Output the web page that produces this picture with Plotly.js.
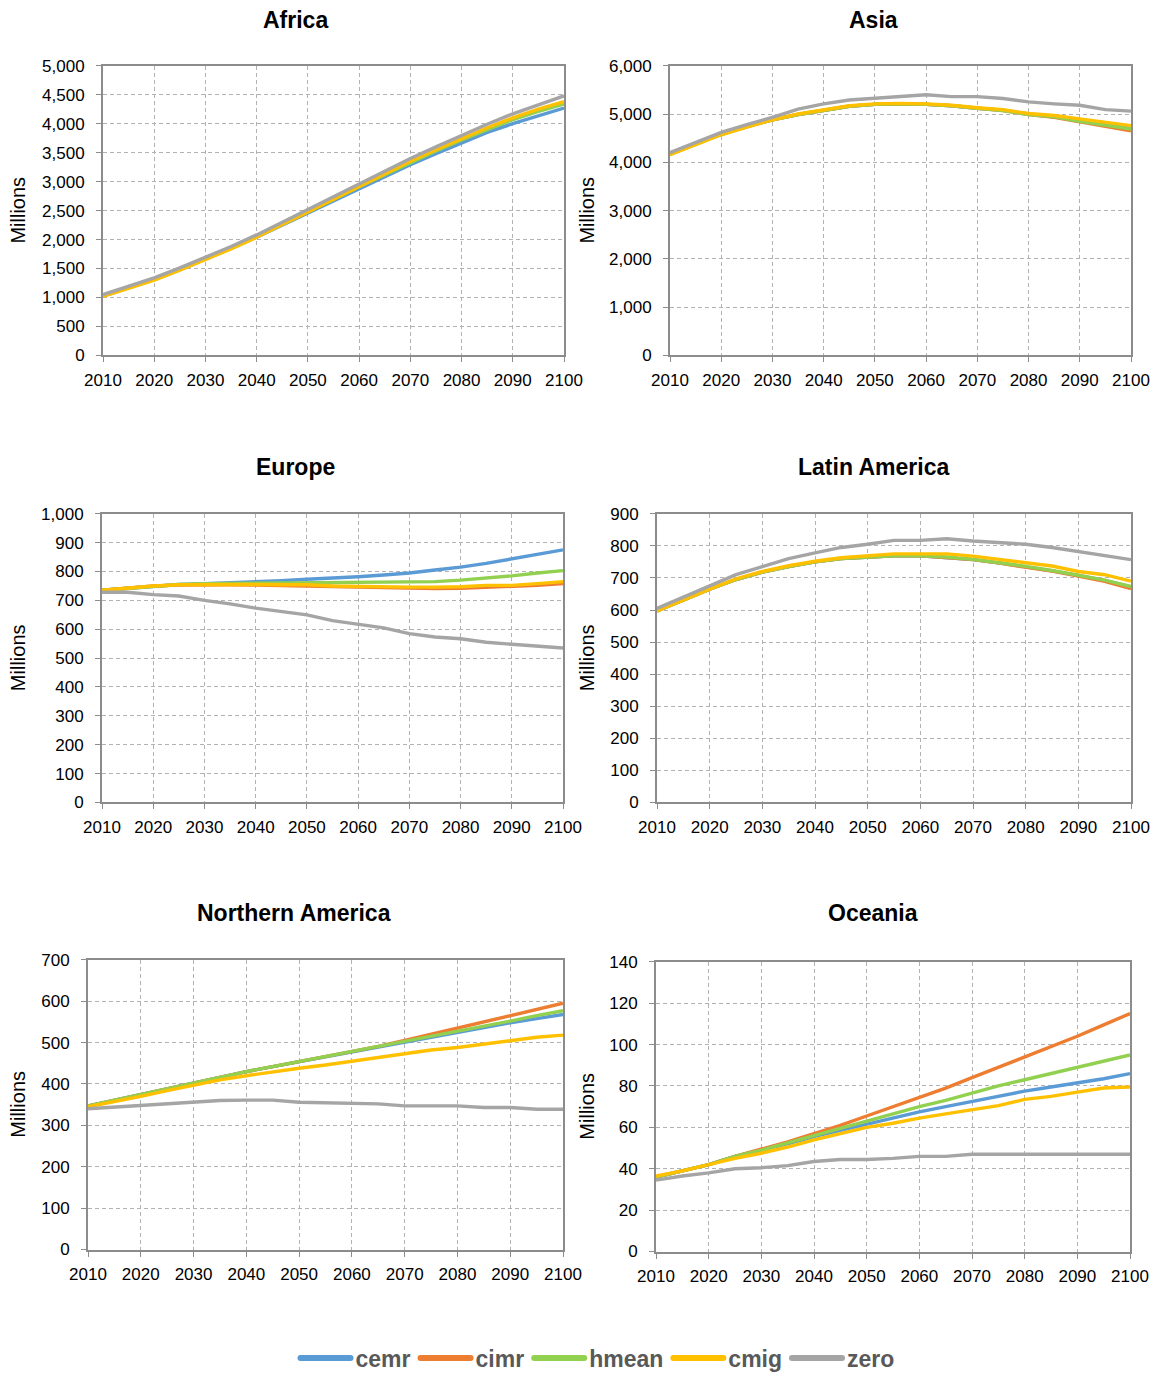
<!DOCTYPE html>
<html>
<head>
<meta charset="utf-8">
<script src="https://cdn.plot.ly/plotly-3.0.1.min.js"></script>
<style>
  html, body { margin: 0; padding: 0; background: #fff; }
  #chart { width: 1158px; height: 1380px; }
</style>
</head>
<body>
<div id="chart"></div>
<script>
// Population projections by region under five migration scenarios (millions)
const YEARS = [2010, 2015, 2020, 2025, 2030, 2035, 2040, 2045, 2050, 2055,
               2060, 2065, 2070, 2075, 2080, 2085, 2090, 2095, 2100];
const SCENARIOS = ['cemr', 'cimr', 'hmean', 'cmig', 'zero'];
const REGIONS = ['Africa', 'Asia', 'Europe', 'Latin America', 'Northern America', 'Oceania'];

const AFRICA_CEMR  = [1030, 1170, 1310, 1480, 1660, 1850, 2040, 2250, 2460, 2670, 2880, 3090, 3290, 3480, 3670, 3850, 4000, 4140, 4270];
const AFRICA_CIMR  = [1030, 1170, 1310, 1480, 1660, 1850, 2050, 2270, 2480, 2700, 2910, 3130, 3340, 3540, 3730, 3910, 4080, 4230, 4360];
const AFRICA_HMEAN = [1030, 1170, 1310, 1480, 1660, 1850, 2050, 2260, 2480, 2690, 2910, 3120, 3330, 3530, 3720, 3900, 4070, 4210, 4340];
const AFRICA_CMIG  = [1020, 1160, 1300, 1470, 1650, 1840, 2040, 2260, 2480, 2700, 2920, 3140, 3350, 3550, 3740, 3930, 4100, 4250, 4380];
const AFRICA_ZERO  = [1050, 1200, 1340, 1510, 1690, 1880, 2080, 2300, 2520, 2740, 2960, 3180, 3400, 3600, 3800, 3990, 4170, 4330, 4480];

const ASIA_CEMR  = [4170, 4380, 4580, 4740, 4880, 4990, 5080, 5160, 5200, 5210, 5200, 5170, 5120, 5080, 5000, 4940, 4860, 4780, 4700];
const ASIA_CIMR  = [4170, 4380, 4580, 4740, 4880, 4990, 5080, 5160, 5200, 5210, 5200, 5170, 5120, 5070, 4990, 4930, 4840, 4750, 4650];
const ASIA_HMEAN = [4170, 4380, 4580, 4740, 4880, 4990, 5080, 5160, 5200, 5210, 5200, 5170, 5120, 5070, 4990, 4940, 4850, 4770, 4690];
const ASIA_CMIG  = [4160, 4370, 4570, 4730, 4880, 5000, 5090, 5170, 5210, 5220, 5210, 5180, 5130, 5090, 5010, 4970, 4900, 4830, 4760];
const ASIA_ZERO  = [4200, 4410, 4620, 4780, 4930, 5100, 5210, 5290, 5330, 5360, 5400, 5360, 5360, 5320, 5250, 5210, 5180, 5090, 5060];

const EUROPE_CEMR  = [735, 742, 750, 755, 758, 761, 765, 768, 773, 777, 782, 788, 795, 805, 815, 828, 843, 858, 875];
const EUROPE_CIMR  = [735, 742, 750, 753, 754, 754, 753, 752, 751, 748, 746, 744, 742, 741, 742, 745, 748, 752, 758];
const EUROPE_HMEAN = [735, 742, 750, 755, 758, 759, 760, 760, 761, 761, 761, 762, 763, 765, 770, 777, 785, 795, 803];
const EUROPE_CMIG  = [735, 742, 750, 754, 755, 755, 755, 754, 754, 750, 748, 747, 746, 746, 747, 752, 752, 758, 765];
const EUROPE_ZERO  = [728, 728, 720, 715, 700, 688, 673, 662, 650, 630, 618, 605, 585, 573, 567, 555, 548, 542, 535];

const LATAM_CEMR  = [597, 632, 665, 695, 718, 735, 750, 760, 765, 769, 769, 764, 757, 747, 735, 722, 708, 692, 672];
const LATAM_CIMR  = [597, 632, 665, 695, 718, 735, 750, 760, 765, 769, 769, 764, 757, 746, 734, 721, 706, 689, 667];
const LATAM_HMEAN = [597, 632, 665, 695, 718, 735, 750, 760, 765, 769, 769, 765, 758, 748, 736, 723, 709, 693, 673];
const LATAM_CMIG  = [597, 632, 665, 697, 720, 738, 752, 763, 770, 775, 775, 775, 768, 758, 748, 737, 720, 710, 690];
const LATAM_ZERO  = [605, 640, 675, 710, 735, 760, 778, 795, 805, 817, 817, 822, 815, 810, 805, 795, 782, 770, 757];

const NAMER_CEMR  = [347, 361, 375, 389, 403, 417, 430, 442, 454, 466, 478, 490, 502, 514, 526, 537, 548, 558, 568];
const NAMER_CIMR  = [347, 361, 375, 389, 403, 417, 430, 442, 454, 466, 478, 491, 505, 520, 535, 550, 565, 580, 595];
const NAMER_HMEAN = [347, 361, 375, 389, 403, 417, 430, 442, 454, 466, 478, 490, 503, 516, 528, 540, 552, 565, 577];
const NAMER_CMIG  = [345, 357, 370, 384, 398, 410, 420, 430, 438, 446, 455, 464, 473, 482, 488, 497, 505, 513, 518];
const NAMER_ZERO  = [340, 344, 348, 352, 356, 360, 361, 361, 356, 355, 352, 352, 347, 347, 347, 343, 343, 339, 339];

const OCEANIA_CEMR  = [36, 39, 42, 46, 49, 52, 55.5, 58.5, 61.5, 64.5, 67.5, 70, 72.5, 75, 77.5, 79.5, 81.5, 83.5, 86];
const OCEANIA_CIMR  = [36, 39, 42, 46, 49.5, 53, 57, 61, 65.5, 70, 74.5, 79, 84, 89, 94, 99, 104, 109.5, 115];
const OCEANIA_HMEAN = [36, 39, 42, 46, 49, 52.5, 56, 59.5, 63, 66.5, 70, 73, 76.5, 80, 83, 86, 89, 92, 95];
const OCEANIA_CMIG  = [36.5, 39, 42, 45, 47.5, 50.5, 54, 57, 60, 62, 64.5, 66.5, 68.5, 70.5, 73.5, 75, 77, 79, 79.5];
const OCEANIA_ZERO  = [34.5, 36.5, 38, 40, 40.5, 41.5, 43.5, 44.5, 44.5, 45, 46, 46, 47, 47, 47, 47, 47, 47, 47];

const Y_MAX  = [5000, 6000, 1000, 900, 700, 140];
const Y_STEP = [500, 1000, 100, 100, 100, 20];

const SERIES = [
  [AFRICA_CEMR, AFRICA_CIMR, AFRICA_HMEAN, AFRICA_CMIG, AFRICA_ZERO],
  [ASIA_CEMR, ASIA_CIMR, ASIA_HMEAN, ASIA_CMIG, ASIA_ZERO],
  [EUROPE_CEMR, EUROPE_CIMR, EUROPE_HMEAN, EUROPE_CMIG, EUROPE_ZERO],
  [LATAM_CEMR, LATAM_CIMR, LATAM_HMEAN, LATAM_CMIG, LATAM_ZERO],
  [NAMER_CEMR, NAMER_CIMR, NAMER_HMEAN, NAMER_CMIG, NAMER_ZERO],
  [OCEANIA_CEMR, OCEANIA_CIMR, OCEANIA_HMEAN, OCEANIA_CMIG, OCEANIA_ZERO]
];

const COLORS = ['#5B9BD5', '#ED7D31', '#92D050', '#FFC000', '#A5A5A5'];

// Plot-area boxes in pixels: [left, right, top, bottom], and panel title centres
const W = 1158, H = 1380;
const BOXES = [
  [103, 564, 66, 357],
  [670, 1131, 66, 357],
  [102, 563, 516, 806],
  [657, 1131, 516, 806],
  [88, 563, 964, 1255],
  [656, 1130, 966, 1257]
];
const TITLE_POS = [[295, 20], [873, 20], [295, 469], [873, 469], [294, 917], [873, 917]];

const FONT = "'Liberation Sans', Arial, sans-serif";

const traces = [];
const layout = {
  width: W, height: H,
  margin: {l: 0, r: 0, t: 0, b: 0},
  paper_bgcolor: '#ffffff',
  plot_bgcolor: '#ffffff',
  showlegend: true,
  legend: {
    orientation: 'h', x: 0.516, xanchor: 'center', y: 1 - 1364 / H, yanchor: 'middle',
    font: {family: FONT, size: 23, color: '#595959', weight: 'bold'},
    itemwidth: 50, tracegroupgap: 0, itemclick: false
  },
  annotations: []
};

REGIONS.forEach((region, r) => {
  const n = r + 1;
  const xa = 'x' + (n === 1 ? '' : n), ya = 'y' + (n === 1 ? '' : n);
  const [l, rt, t, b] = BOXES[r];
  SCENARIOS.forEach((s, k) => {
    traces.push({
      type: 'scatter', mode: 'lines', x: YEARS, y: SERIES[r][k], name: s,
      xaxis: xa, yaxis: ya, showlegend: r === 0, legendgroup: s,
      line: {color: COLORS[k], width: 3.4}, hoverinfo: 'skip'
    });
  });
  const axisCommon = {
    showline: true, mirror: true, linecolor: '#8C8C8C', linewidth: 2,
    showgrid: true, gridcolor: '#B2B2B2', griddash: '4px,3px', gridwidth: 1,
    zeroline: false, ticks: 'outside', ticklen: 5, tickcolor: '#8C8C8C', tickwidth: 1,
    tickfont: {family: FONT, size: 17, color: '#000'}, fixedrange: true
  };
  layout['xaxis' + (n === 1 ? '' : n)] = Object.assign({}, axisCommon, {
    domain: [l / W, rt / W], anchor: ya, range: [2010, 2100], dtick: 10, tick0: 2010,
    ticklabelstandoff: 3
  });
  layout['yaxis' + (n === 1 ? '' : n)] = Object.assign({}, axisCommon, {
    domain: [1 - b / H, 1 - t / H], anchor: xa, range: [0, Y_MAX[r]], dtick: Y_STEP[r],
    tickformat: ',d', ticklabelstandoff: 8
  });
  // panel title
  layout.annotations.push({
    text: region, xref: 'paper', yref: 'paper', showarrow: false,
    x: TITLE_POS[r][0] / W, y: 1 - TITLE_POS[r][1] / H, xanchor: 'center', yanchor: 'middle',
    font: {family: FONT, size: 23, color: '#000', weight: 'bold'}
  });
  // y-axis title
  layout.annotations.push({
    text: 'Millions', xref: 'paper', yref: 'paper', showarrow: false, textangle: -90,
    x: (r % 2 === 0 ? 18 : 587) / W, y: 1 - ((t + b) / 2) / H, xanchor: 'center', yanchor: 'middle',
    font: {family: FONT, size: 20, color: '#000'}
  });
});

Plotly.newPlot('chart', traces, layout, {staticPlot: true, displayModeBar: false}).then(gd => {
  // thicker, rounded legend swatches
  gd.querySelectorAll('.legend .legendlines path').forEach(p => {
    p.style.strokeWidth = '6px';
    p.style.strokeLinecap = 'round';
  });
});
</script>
</body>
</html>
